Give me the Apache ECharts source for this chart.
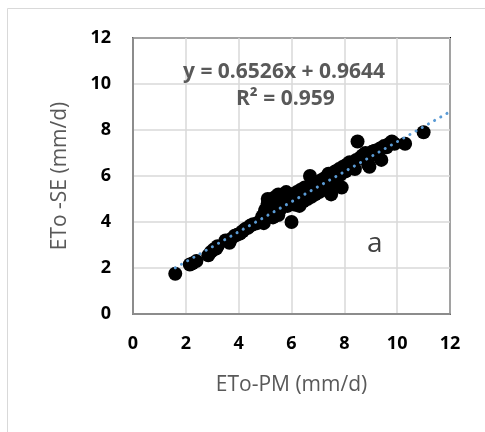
<!DOCTYPE html>
<html>
<head>
<meta charset="utf-8">
<script src="https://cdn.jsdelivr.net/npm/echarts@6/dist/echarts.min.js"></script>
<style>
  html, body { margin: 0; padding: 0; background: #fff; }
  #chart { width: 485px; height: 432px; }
</style>
</head>
<body>
<div id="chart"></div>
<script>
// ETo by Penman-Monteith (x) vs ETo by SE method (y), mm/d
const pmValues = [
  1.6, 2.15, 2.25, 2.4, 2.85, 2.95, 3.05, 3.15, 3.2,
  3.5, 3.65, 3.7, 3.85, 3.95, 4.05, 4.15, 4.25, 4.35, 4.45, 4.55, 4.7, 4.8, 4.85, 4.9, 4.95,
  5.0, 5.05, 5.1, 5.1, 5.15, 5.2, 5.25, 5.3, 5.3, 5.35, 5.4, 5.45, 5.5, 5.5, 5.55, 5.6, 5.65, 5.7, 5.75, 5.8, 5.85, 5.9, 5.95,
  6.0, 6.0, 6.05, 6.1, 6.15, 6.2, 6.25, 6.3, 6.35, 6.4, 6.45, 6.5, 6.55, 6.6, 6.65, 6.7, 6.7, 6.75, 6.8, 6.85, 6.9, 6.95,
  7.0, 7.05, 7.1, 7.15, 7.2, 7.25, 7.3, 7.35, 7.4, 7.45, 7.5, 7.55, 7.6, 7.65, 7.7, 7.8, 7.85, 7.9, 7.95,
  8.05, 8.1, 8.2, 8.3, 8.4, 8.45, 8.5, 8.6, 8.7, 8.8, 8.9, 8.95,
  9.05, 9.15, 9.25, 9.35, 9.4, 9.5, 9.6, 9.7, 9.8, 9.9, 10.3, 11.0
];
const seValues = [
  1.75, 2.15, 2.2, 2.3, 2.55, 2.7, 2.8, 2.85, 2.95,
  3.2, 3.1, 3.25, 3.4, 3.45, 3.5, 3.6, 3.7, 3.75, 3.85, 3.9, 3.95, 4.0, 4.1, 4.25, 3.95,
  4.5, 4.6, 4.8, 5.0, 4.4, 4.7, 5.0, 4.2, 4.9, 4.5, 5.1, 4.75, 4.3, 5.2, 4.9, 4.6, 5.15, 4.8, 5.0, 5.3, 4.7, 5.05, 4.85,
  4.0, 5.2, 4.9, 5.1, 4.75, 5.3, 5.0, 4.7, 5.4, 5.15, 4.9, 5.5, 5.25, 5.0, 5.55, 6.0, 5.3, 5.1, 5.6, 5.4, 5.2, 5.7,
  5.5, 5.3, 5.8, 5.6, 5.4, 5.9, 5.7, 5.5, 6.1, 5.8, 5.2, 6.0, 5.7, 6.2, 5.9, 6.3, 6.05, 5.5, 6.4,
  6.2, 6.5, 6.6, 6.35, 6.3, 6.7, 7.5, 6.8, 6.9, 7.0, 6.5, 6.4,
  7.05, 7.1, 6.9, 7.2, 6.7, 7.3, 7.25, 7.4, 7.5, 7.4, 7.4, 7.9
];
const trendSlope = 0.6526;
const trendIntercept = 0.9644;
const trendR2 = 0.959;
const axisTicks = [0, 2, 4, 6, 8, 10, 12];

const points = pmValues.map((x, i) => [x, seValues[i]]);
const trendStart = Math.min(...pmValues);
const trendEnd = axisTicks[axisTicks.length - 1];
const trendLine = [trendStart, trendEnd].map(x => [x, trendSlope * x + trendIntercept]);

const font = "'Open Sans', 'Noto Sans', sans-serif";
const chart = echarts.init(document.getElementById("chart"), null, { renderer: "canvas" });

const axisCommon = {
  type: "value",
  min: axisTicks[0],
  max: trendEnd,
  interval: 2,
  nameLocation: "middle",
  nameTextStyle: { color: "#595959", fontSize: 21, fontFamily: font },
  axisLine: { show: true, lineStyle: { color: "#8c8c8c", width: 2 } },
  axisTick: { show: false },
  axisLabel: { color: "#000", fontSize: 18, fontWeight: "bold", fontFamily: font },
  splitLine: { show: true, lineStyle: { color: "#d9d9d9", width: 1.5 } }
};

chart.setOption({
  backgroundColor: "#fff",
  animation: false,
  grid: {
    left: 133, right: 35, top: 38, bottom: 118,
    show: true, borderColor: "#000", borderWidth: 2, backgroundColor: "transparent"
  },
  xAxis: Object.assign({}, axisCommon, {
    name: "ETo-PM (mm/d)",
    nameGap: 61,
    axisLabel: Object.assign({}, axisCommon.axisLabel, { margin: 21 })
  }),
  yAxis: Object.assign({}, axisCommon, {
    name: "ETo -SE (mm/d)",
    nameGap: 62,
    axisLabel: Object.assign({}, axisCommon.axisLabel, { margin: 22 })
  }),
  graphic: [
    {
      type: "rect", silent: true, z: -1,
      shape: { x: 7.5, y: 8.5, width: 600, height: 600 },
      style: { fill: "none", stroke: "#d9d9d9", lineWidth: 1 }
    },
    {
      type: "text", left: 183, top: 62, z: 10,
      style: {
        text: "y = " + trendSlope + "x + " + trendIntercept,
        fill: "#595959", font: "bold 21px " + font
      }
    },
    {
      type: "text", left: 236, top: 89, z: 10,
      style: { text: "R² = " + trendR2, fill: "#595959", font: "bold 21px " + font }
    },
    {
      type: "text", left: 367, top: 230, z: 10,
      style: { text: "a", fill: "#404040", font: "28px " + font }
    }
  ],
  series: [
    {
      type: "scatter",
      data: points,
      symbol: "circle",
      symbolSize: 14,
      itemStyle: { color: "#000", opacity: 1 },
      z: 2
    },
    {
      type: "line",
      data: trendLine,
      showSymbol: false,
      lineStyle: { color: "#5b9bd5", width: 3, type: [0.1, 7], cap: "round" },
      z: 3
    }
  ]
});
</script>
</body>
</html>
